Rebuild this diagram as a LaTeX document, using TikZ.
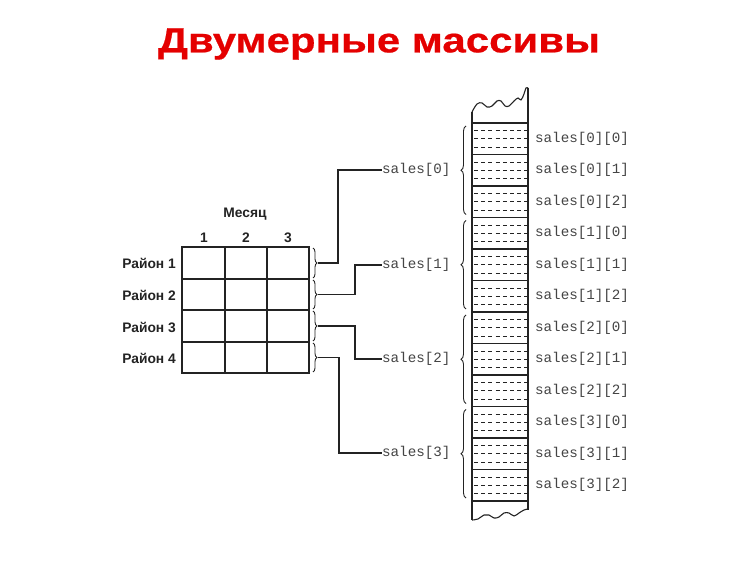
\documentclass[tikz,border=0pt]{standalone}
\usepackage{fontspec}
\setmainfont{Liberation Sans}
\newfontfamily\monof{Liberation Mono}
\newfontfamily\titlefont[FakeStretch=1.2, FakeBold=0.6]{Liberation Sans Bold}
\usetikzlibrary{decorations.pathreplacing}
\definecolor{titlered}{RGB}{228,0,0}
\definecolor{ink}{RGB}{35,35,35}
\begin{document}
\begin{tikzpicture}[x=1pt,y=-1pt,
  inkline/.style={draw=ink, line width=1.1pt},
  rowlab/.style={font=\bfseries\fontsize{13.8}{15}\selectfont, text=ink, anchor=east, inner sep=0},
  collab/.style={font=\bfseries\fontsize{13.8}{15}\selectfont, text=ink, inner sep=0},
  mono/.style={font=\monof\fontsize{14.2}{16}\selectfont, text=ink!85, inner sep=0, anchor=west},
  smallbrace/.style={draw=ink, line width=0.9pt, decorate, decoration={brace, amplitude=4pt}},
  bigbrace/.style={draw=ink, line width=0.9pt, decorate, decoration={brace, amplitude=5pt}},
  conn/.style={draw=ink, line width=1.1pt},
  celldash/.style={draw=ink, line width=0.9pt, dash pattern=on 4pt off 3.2pt}
]
\useasboundingbox (0,0) rectangle (750,561);

% title
\node[font=\titlefont\fontsize{35}{40}\selectfont, text=titlered, inner sep=0] (title) at (379,44) {Двумерные массивы};

% table
\draw[inkline] (182,247) rectangle (309,373);
\foreach \x in {225,267} \draw[inkline] (\x,247) -- (\x,373);
\foreach \y in {279,310,342} \draw[inkline] (182,\y) -- (309,\y);

\node[collab] (month) at (245,214) {Месяц};
\node[collab] (c1) at (204,238) {1};
\node[collab] (c2) at (246,238) {2};
\node[collab] (c3) at (288,238) {3};

\node[rowlab] (r1) at (176,263) {Район 1};
\node[rowlab] (r2) at (176,295) {Район 2};
\node[rowlab] (r3) at (176,327) {Район 3};
\node[rowlab] (r4) at (176,358) {Район 4};

% small braces on table rows
\draw[smallbrace] (313,248) -- (313,278);
\draw[smallbrace] (313,280) -- (313,309);
\draw[smallbrace] (313,311) -- (313,341);
\draw[smallbrace] (313,343) -- (313,372);
\coordinate (bt1) at (318,263);
\coordinate (bt2) at (318,294.5);
\coordinate (bt3) at (318,326);
\coordinate (bt4) at (318,357.5);

% row names
\node[mono] (s0) at (382,170) {sales[0]};
\node[mono] (s1) at (382,265) {sales[1]};
\node[mono] (s2) at (382,359) {sales[2]};
\node[mono] (s3) at (382,453) {sales[3]};

% connectors
\draw[conn] (bt1) -- ++(20,0) |- (s0.west);
\draw[conn] (bt2) -- ++(37,0) |- (s1.west);
\draw[conn] (bt3) -- ++(37,0) |- (s2.west);
\draw[conn] (bt4) -- ++(21,0) |- (s3.west);

% memory column
\draw[inkline] (472,112) -- (472,520);
\draw[inkline] (528,88) -- (528,510);
\draw[inkline] plot[smooth, tension=0.6] coordinates {(472,112) (477,104) (482,103) (487,107) (492,106) (497,101) (501,101) (505,106) (509,106) (514,101) (518,98) (521,100) (524,94) (526,88) (528,88)};
\draw[inkline] plot[smooth, tension=0.6] coordinates {(472,520) (478,519) (484,515) (489,515) (494,518) (499,517) (504,513) (509,513) (514,516) (519,513) (524,510) (528,509)};
\foreach \i in {0,...,12} \draw[inkline] (472,123+31.5*\i) -- (528,123+31.5*\i);
\foreach \i in {0,...,11} {
  \draw[celldash] (474,123+31.5*\i+7.5) -- (527,123+31.5*\i+7.5);
  \draw[celldash] (474,123+31.5*\i+15.8) -- (527,123+31.5*\i+15.8);
  \draw[celldash] (474,123+31.5*\i+24) -- (527,123+31.5*\i+24);
}

% big braces
\foreach \k in {0,...,3}
  \draw[bigbrace] (466,123+94.5*\k+94.5-3) -- (466,123+94.5*\k+3);

% element labels
\foreach \k in {0,...,3}
  \foreach \j in {0,1,2}
    \node[mono] (e\k\j) at (535,123+31.5*\k*3+31.5*\j+15.75) {sales[\k][\j]};
\end{tikzpicture}
\end{document}
